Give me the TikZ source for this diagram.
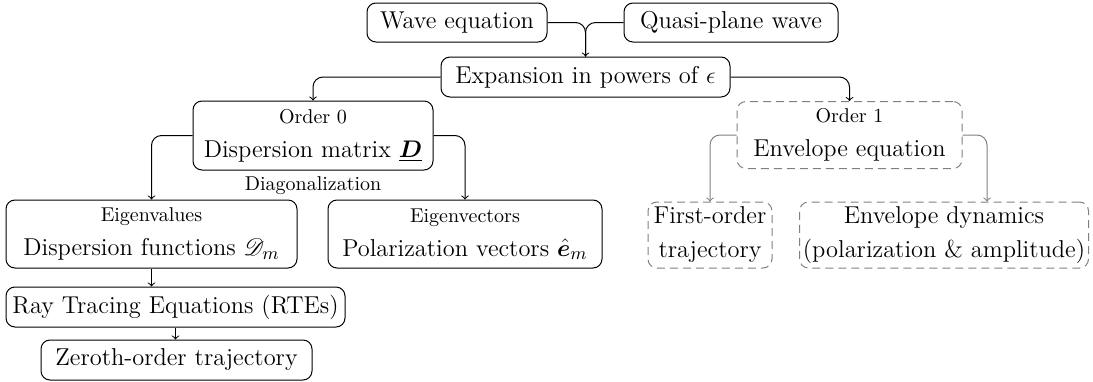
\documentclass[tikz,border=0pt]{standalone}
\usepackage{amsmath}
\usepackage{amssymb}
\usepackage{bm}
\usepackage{mathrsfs}
\usepackage{xcolor}
\usepackage{tikz}
\usetikzlibrary{arrows}
\tikzstyle{block} = [draw, rectangle, rounded corners=4.5pt, align=center, inner sep=1.5pt, line width=0.5pt, font=\fontsize{12.2}{17}\selectfont]
\tikzstyle{later} = [block, draw=gray, dash pattern=on 4pt off 2.5pt]
\tikzstyle{link} = [->, rounded corners=5pt, line width=0.5pt]
\tikzstyle{laterlink} = [link, gray]
\newcommand{\nodehead}[1]{{\fontsize{10}{12}\selectfont #1}}

\begin{document}
\begin{tikzpicture}[x=0.5pt, y=-0.5pt]
\useasboundingbox (0,0) rectangle (1093,381);
% inputs
\node [block, minimum width=90pt, minimum height=19.5pt] (wave) at (457,22.5) {Wave equation};
\node [block, minimum width=107pt, minimum height=19.5pt] (quasi) at (731,22.5) {Quasi-plane wave};
\node [block, minimum width=144.5pt, minimum height=20pt] (expand) at (585.5,77) {Expansion in powers of $\epsilon$};
% order 0
\node [block, minimum width=120pt, minimum height=34.5pt] (order0) at (313,135.5)
	{\nodehead{Order 0}\\ Dispersion matrix $\underline{\bm{D}}$};
\node (diag) at (313,186) {\nodehead{Diagonalization}};
\node [block, minimum width=145.5pt, minimum height=34pt] (eigval) at (151.5,234)
	{\nodehead{Eigenvalues}\\ Dispersion functions $\mathscr{D}_m$};
\node [block, minimum width=137pt, minimum height=34pt] (eigvec) at (465,234)
	{\nodehead{Eigenvectors}\\ Polarization vectors $\hat{\bm{e}}_m$};
\node [block, minimum width=169.5pt, minimum height=20pt] (rte) at (175.5,307) {Ray Tracing Equations (RTEs)};
\node [block, minimum width=135.5pt, minimum height=20pt] (zeroth) at (176.5,360) {Zeroth-order trajectory};
% order 1
\node [later, minimum width=112.5pt, minimum height=33.5pt] (order1) at (849.5,135)
	{\nodehead{Order 1}\\ Envelope equation};
\node [later, minimum width=62pt, minimum height=33pt] (first) at (710,235)
	{First-order\\ trajectory};
\node [later, minimum width=144.5pt, minimum height=33pt] (envdyn) at (944,235)
	{Envelope dynamics\\ (polarization \& amplitude)};

\draw [link] (wave.east) -| (expand.north);
\draw [rounded corners=5pt, line width=0.5pt] (quasi.west) -| (expand.north);
\draw [link] (expand.west) -| (order0.north);
\draw [link] (expand.east) -| (order1.north);
\draw [link] (order0.west) -| (eigval.north);
\draw [link] (order0.east) -| (eigvec.north);
\draw [link] (eigval.south) -- (eigval.south |- rte.north);
\draw [link] (rte.south) -- (rte.south |- zeroth.north);
\draw [laterlink] (order1.west) -| (first.north);
\draw [laterlink] (order1.east) -| ([xshift=21.5pt]envdyn.north);
\end{tikzpicture}
\end{document}
